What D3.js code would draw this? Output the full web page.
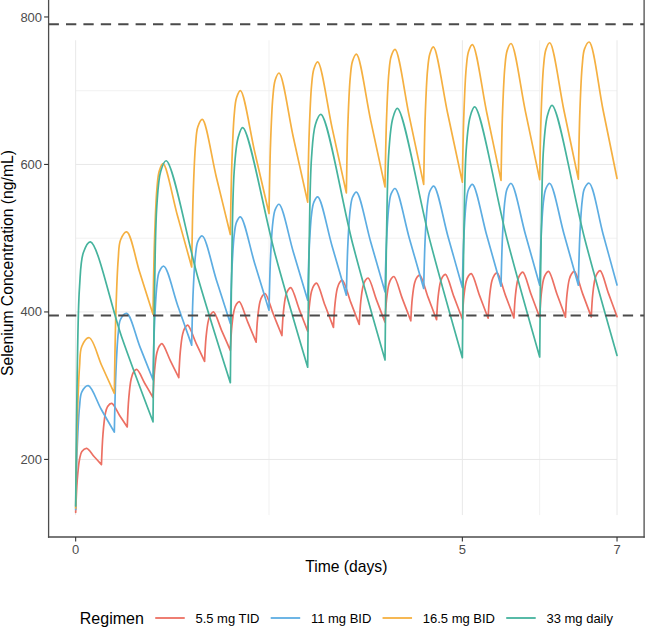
<!DOCTYPE html>
<html><head><meta charset="utf-8">
<script src="https://cdn.jsdelivr.net/npm/d3@7"></script>
<style>
body{margin:0;background:#fff}
svg{display:block}
text{font-family:"Liberation Sans",Arial,Helvetica,sans-serif}
</style>
</head><body>
<svg id="chart" width="646" height="635"></svg>
<script>
// ---------------- data ----------------
const regimens = ["5.5 mg TID", "11 mg BID", "16.5 mg BID", "33 mg daily"];
const colors = ["#EC7063", "#5DADE2", "#F5B041", "#45B39D"];

const dosesTID = [0,0.3333,0.6667,1,1.3333,1.6667,2,2.3333,2.6667,3,3.3333,3.6667,4,4.3333,4.6667,5,5.3333,5.6667,6,6.3333,6.6667,7];
const dosesBID = [0,0.5,1,1.5,2,2.5,3,3.5,4,4.5,5,5.5,6,6.5,7];
const dosesQD  = [0,1,2,3,4,5,6,7];

const tid55 = [
[0,128],[0.02,171.5],[0.05,200.2],[0.08,210.7],[0.142,215],[0.2375,204],[0.3333,193],
[0.3533,234.5],[0.3833,261.9],[0.4133,271.9],[0.4653,276],[0.566,260],[0.6667,244],
[0.6867,283],[0.7167,308.7],[0.7467,318.1],[0.7887,322],[0.8944,303],[1,284],
[1.02,320.5],[1.05,344.6],[1.08,353.4],[1.115,357],[1.224,334],[1.3333,311],
[1.3533,346.5],[1.3833,369.9],[1.4133,378.5],[1.4483,382],[1.5573,357.5],[1.6667,333],
[1.6867,366.5],[1.7167,388.6],[1.7467,396.7],[1.7817,400],[1.8907,374],[2,348],
[2.02,381],[2.05,402.8],[2.08,410.7],[2.115,414],[2.224,386.5],[2.3333,359],
[2.3533,392],[2.3833,413.8],[2.4133,421.7],[2.4483,425],[2.5573,396.5],[2.6667,368],
[2.6867,400.5],[2.7167,422],[2.7467,429.8],[2.7817,433],[2.8907,403.5],[3,374],
[3.02,406.5],[3.05,428],[3.08,435.8],[3.115,439],[3.224,409],[3.3333,379],
[3.3533,411],[3.3833,432.1],[3.4133,439.8],[3.4483,443],[3.5573,413],[3.6667,383],
[3.6867,414.5],[3.7167,435.3],[3.7467,442.9],[3.7817,446],[3.8907,416],[4,386],
[4.02,417],[4.05,437.5],[4.08,444.9],[4.115,448],[4.224,418],[4.3333,388],
[4.3533,419],[4.3833,439.5],[4.4133,446.9],[4.4483,450],[4.5573,419.8],[4.6667,389.5],
[4.6867,420.3],[4.7167,440.5],[4.7467,447.9],[4.7817,451],[4.8907,420.8],[5,390.5],
[5.02,421.3],[5.05,441.5],[5.08,448.9],[5.115,452],[5.224,421.8],[5.3333,391.5],
[5.3533,422.3],[5.3833,442.5],[5.4133,449.9],[5.4483,453],[5.5573,422.5],[5.6667,392],
[5.6867,423],[5.7167,443.5],[5.7467,450.9],[5.7817,454],[5.8907,423.3],[6,392.5],
[6.02,423.8],[6.05,444.4],[6.08,451.9],[6.115,455],[6.224,424],[6.3333,393],
[6.3533,424],[6.3833,444.5],[6.4133,451.9],[6.4483,455],[6.5573,424.2],[6.6667,393.3],
[6.6867,424.7],[6.7167,445.3],[6.7467,452.9],[6.7817,456],[6.8907,424.8],[7,393.6]
];

const bid11 = [
[0,132],[0.02,216],[0.05,271.4],[0.08,291.6],[0.163,300],[0.33,268],[0.5,237],
[0.52,317.5],[0.55,370.6],[0.58,390],[0.66,398],[0.83,353],[1,308],
[1.02,385],[1.05,435.8],[1.08,454.3],[1.14,462],[1.32,408.5],[1.5,355],
[1.52,429],[1.55,477.8],[1.58,495.6],[1.637,503],[1.8185,443.7],[2,384.4],
[2.02,456.7],[2.05,504.4],[2.08,521.8],[2.13,529],[2.315,465.7],[2.5,402.4],
[2.52,474.2],[2.55,521.6],[2.58,538.8],[2.63,546],[2.815,481],[3,416],
[3.02,486],[3.05,532.2],[3.08,549],[3.13,556],[3.315,489.4],[3.5,422.7],
[3.52,492.6],[3.55,538.7],[3.58,555.5],[3.63,562.5],[3.815,494.9],[4,427.2],
[4.02,497.3],[4.05,543.6],[4.08,560.4],[4.13,567.4],[4.315,499.6],[4.5,431.8],
[4.52,501.3],[4.55,547.1],[4.58,563.8],[4.63,570.7],[4.815,502],[5,433.2],
[5.02,503.1],[5.05,549.2],[5.08,566],[5.13,573],[5.315,504],[5.5,434.9],
[5.52,504.6],[5.55,550.5],[5.58,567.2],[5.63,574.2],[5.815,505.3],[6,436.3],
[6.02,505.3],[6.05,550.8],[6.08,567.3],[6.13,574.2],[6.315,505.3],[6.5,436.3],
[6.52,505.4],[6.55,551],[6.58,567.6],[6.64,574.5],[6.82,505.4],[7,436.5]
];

const bid165 = [
[0,134],[0.02,249.5],[0.05,325.7],[0.08,353.5],[0.176,365],[0.338,327],[0.5,289.5],
[0.52,399],[0.55,471.3],[0.58,497.5],[0.66,508.5],[0.83,453],[1,397],
[1.02,499],[1.05,566.3],[1.08,590.8],[1.13,601],[1.315,531],[1.5,461],
[1.52,561],[1.55,627],[1.58,651],[1.637,661],[1.8185,583],[2,505],
[2.02,602.5],[2.05,666.9],[2.08,690.3],[2.13,700],[2.315,617],[2.5,533.5],
[2.52,628.8],[2.55,691.6],[2.58,714.5],[2.63,724],[2.815,636.5],[3,549],
[3.02,644],[3.05,706.7],[3.08,729.5],[3.13,739],[3.315,650],[3.5,561.5],
[3.52,655.5],[3.55,717.5],[3.58,740.1],[3.63,749.5],[3.815,659.5],[4,569.5],
[4.02,662.8],[4.05,724.3],[4.08,746.7],[4.13,756],[4.315,664.5],[4.5,573],
[4.52,666.3],[4.55,727.8],[4.58,750.2],[4.625,759.5],[4.8125,668],[5,576],
[5.02,669.3],[5.05,730.8],[5.08,753.2],[5.13,762.5],[5.315,670.5],[5.5,578.5],
[5.52,671.3],[5.55,732.5],[5.58,754.7],[5.63,764],[5.815,672],[6,579.5],
[6.02,672.3],[6.05,733.5],[6.08,755.7],[6.13,765],[6.315,672.5],[6.5,580],
[6.52,673],[6.55,734.4],[6.58,756.7],[6.64,766],[6.82,673.5],[7,581]
];

const qd33 = [
[0,137],[0.02,316],[0.05,434],[0.1,480.7],[0.19,495],[0.595,366],[1,251],
[1.02,428],[1.05,544.8],[1.1,590.8],[1.17,605],[1.585,445],[2,304],
[2.02,477],[2.05,591.2],[2.1,636.2],[2.16,650],[2.58,478],[3,325],
[3.02,496.5],[3.05,609.7],[3.1,654.3],[3.17,668],[3.585,491],[4,335],
[4.02,505.5],[4.05,618],[4.1,662.4],[4.16,676],[4.58,497],[5,338],
[5.02,508],[5.05,620.2],[5.1,664.4],[5.16,678],[5.58,498],[6,339],
[6.02,509.5],[6.05,622],[6.1,666.4],[6.16,680],[6.58,500],[7,341]
];

const seriesData = [tid55, bid11, bid165, qd33];
const seriesDoses = [dosesTID, dosesBID, dosesBID, dosesQD];

const thresholds = [395, 790];
const yTicks = [200, 400, 600, 800];
const xTicks = [0, 5, 7];
const yGridMajor = [200, 400, 600];
const yGridMinor = [300, 500, 700];
const xGridMajor = [0, 5, 7];
const xGridMinor = [2.5, 6];
const gridTimeExtent = [0, 7];
const gridConcExtent = [124.5, 768.4];

// ---------------- layout ----------------
const svg = d3.select("#chart");
const panel = {left: 48.6, right: 644.1, top: -11, bottom: 537};
const x = d3.scaleLinear().domain([-0.35, 7.35]).range([panel.left, panel.right]);
const y = d3.scaleLinear().domain([94.8, 823]).range([537, 0]);

svg.append("rect").attr("width", 646).attr("height", 635).attr("fill", "#fff");

// grid
const g = svg.append("g");
function hgrid(vals, col, w) {
  g.selectAll(null).data(vals).enter().append("line")
    .attr("x1", x(gridTimeExtent[0])).attr("x2", x(gridTimeExtent[1]))
    .attr("y1", d => y(d)).attr("y2", d => y(d))
    .attr("stroke", col).attr("stroke-width", w);
}
function vgrid(vals, col, w) {
  g.selectAll(null).data(vals).enter().append("line")
    .attr("x1", d => x(d)).attr("x2", d => x(d))
    .attr("y1", y(gridConcExtent[0])).attr("y2", y(gridConcExtent[1]))
    .attr("stroke", col).attr("stroke-width", w);
}
hgrid(yGridMinor, "#efefef", 0.9);
vgrid(xGridMinor, "#efefef", 0.9);
hgrid(yGridMajor, "#e8e8e8", 1);
vgrid(xGridMajor, "#e8e8e8", 1);

// series lines (split at dosing times so troughs stay sharp)
const line = d3.line().x(d => x(d[0])).y(d => y(d[1])).curve(d3.curveCatmullRom.alpha(0.5));
seriesData.forEach((pts, i) => {
  const doses = seriesDoses[i];
  let dstr = "";
  for (let k = 0; k < doses.length - 1; k++) {
    const seg = pts.filter(p => p[0] >= doses[k] - 1e-3 && p[0] <= doses[k + 1] + 1e-3);
    if (seg.length > 1) dstr += line(seg);
  }
  svg.append("path").attr("d", dstr).attr("fill", "none")
    .attr("stroke", colors[i]).attr("stroke-width", 1.7)
    .attr("stroke-linejoin", "round").attr("stroke-linecap", "round");
});

// threshold dashed lines
svg.selectAll(null).data(thresholds).enter().append("line")
  .attr("x1", panel.left).attr("x2", panel.right)
  .attr("y1", d => y(d)).attr("y2", d => y(d))
  .attr("stroke", "#4a4a4a").attr("stroke-width", 2)
  .attr("stroke-dasharray", "10.3,7.1");

// frame / axis lines
const frame = svg.append("g").attr("stroke", "#4d4d4d").attr("stroke-width", 1.3);
frame.append("line").attr("x1", panel.left).attr("x2", panel.left).attr("y1", -2).attr("y2", panel.bottom + 0.65);
frame.append("line").attr("x1", panel.left - 0.65).attr("x2", panel.right + 0.65).attr("y1", panel.bottom).attr("y2", panel.bottom);
frame.append("line").attr("x1", panel.right).attr("x2", panel.right).attr("y1", -2).attr("y2", panel.bottom + 0.65);

// y ticks
const yt = svg.append("g");
yt.selectAll("line").data(yTicks).enter().append("line")
  .attr("x1", panel.left - 4.5).attr("x2", panel.left)
  .attr("y1", d => y(d)).attr("y2", d => y(d))
  .attr("stroke", "#333").attr("stroke-width", 1.1);
yt.selectAll("text").data(yTicks).enter().append("text")
  .attr("x", panel.left - 6.5).attr("y", d => y(d)).attr("dy", "0.35em")
  .attr("text-anchor", "end").attr("font-size", 13).attr("fill", "#4d4d4d")
  .text(d => d);

// x ticks
const xt = svg.append("g");
xt.selectAll("line").data(xTicks).enter().append("line")
  .attr("x1", d => x(d)).attr("x2", d => x(d))
  .attr("y1", panel.bottom).attr("y2", panel.bottom + 4.5)
  .attr("stroke", "#333").attr("stroke-width", 1.1);
xt.selectAll("text").data(xTicks).enter().append("text")
  .attr("x", d => x(d)).attr("y", 553.5)
  .attr("text-anchor", "middle").attr("font-size", 13).attr("fill", "#4d4d4d")
  .text(d => d);

// axis titles
svg.append("text").attr("x", (panel.left + panel.right) / 2).attr("y", 571.5)
  .attr("text-anchor", "middle").attr("font-size", 15.7).attr("fill", "#000")
  .text("Time (days)");
svg.append("text").attr("transform", `translate(12.8,${(panel.top + panel.bottom) / 2}) rotate(-90)`)
  .attr("text-anchor", "middle").attr("font-size", 15.7).attr("fill", "#000")
  .text("Selenium Concentration (ng/mL)");

// legend
const leg = svg.append("g");
const legY = 618;
const title = leg.append("text").attr("y", legY).attr("dy", "0.35em")
  .attr("font-size", 16).attr("fill", "#000").text("Regimen");
const keyLen = 29.5, gapTK = 11.4, gapKL = 10.7, gapLK = 11.2;
let cur = title.node().getComputedTextLength() + gapTK;
const items = [];
regimens.forEach((r, i) => {
  const kx = cur;
  const t = leg.append("text").attr("y", legY).attr("dy", "0.35em")
    .attr("font-size", 13).attr("fill", "#000").text(r);
  const tx = kx + keyLen + gapKL;
  t.attr("x", tx);
  items.push({kx, i});
  cur = tx + t.node().getComputedTextLength() + gapLK;
});
const total = cur - gapLK;
items.forEach(it => {
  leg.append("line").attr("x1", it.kx).attr("x2", it.kx + keyLen)
    .attr("y1", legY).attr("y2", legY)
    .attr("stroke", colors[it.i]).attr("stroke-width", 1.8);
});
const offset = (panel.left + panel.right) / 2 - total / 2;
leg.attr("transform", `translate(${offset},0)`);
</script>
</body></html>
